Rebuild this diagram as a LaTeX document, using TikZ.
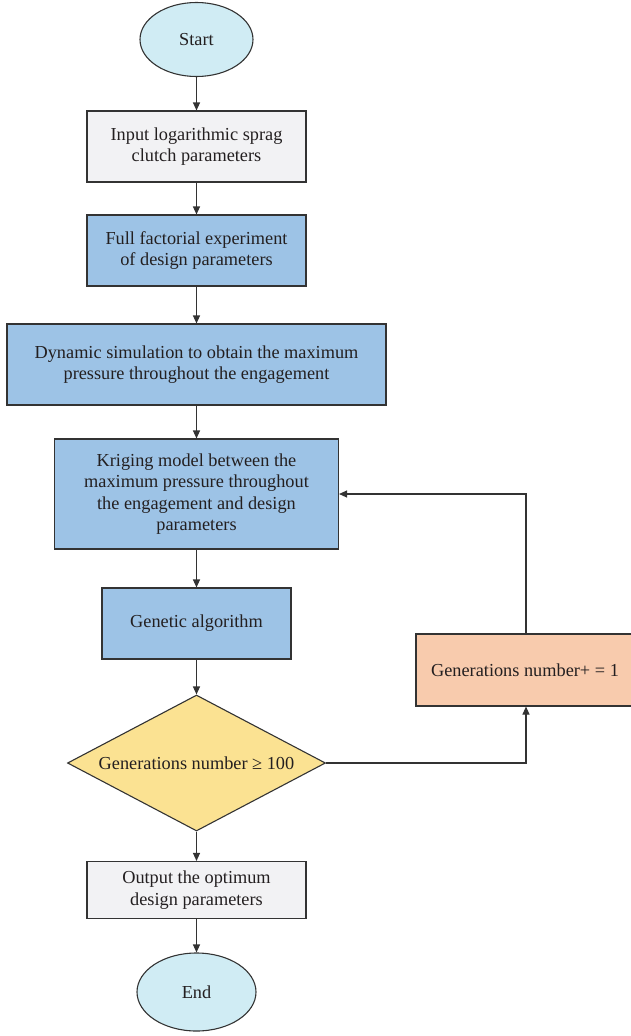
\documentclass[tikz,border=0pt]{standalone}
\usepackage{fontspec}
\setmainfont{Liberation Serif}
\usetikzlibrary{shapes.geometric,arrows.meta}
\definecolor{termfill}{HTML}{D0ECF4}
\definecolor{grayfill}{HTML}{F2F2F4}
\definecolor{bluefill}{HTML}{9DC3E6}
\definecolor{yellowfill}{HTML}{FBE292}
\definecolor{orangefill}{HTML}{F8CBAD}
\definecolor{edge}{HTML}{333333}
\definecolor{txt}{HTML}{231F20}
\tikzset{
  base/.style={draw=edge, line width=1.1pt, text=txt, align=center, inner sep=0pt,
    font=\fontsize{18.3}{21.5}\selectfont},
  term/.style={base, ellipse, fill=termfill},
  graybox/.style={base, rectangle, fill=grayfill},
  bluebox/.style={base, rectangle, fill=bluefill},
  decision/.style={base, diamond, aspect=1.9, fill=yellowfill},
  orangebox/.style={base, rectangle, fill=orangefill},
  conn/.style={draw=edge, line width=1.1pt, -{Triangle[length=8pt,width=7pt]}},
}
\begin{document}
\begin{tikzpicture}[x=1pt,y=-1pt]
\useasboundingbox (0,0) rectangle (630,1036);
\node[term, minimum width=113pt, minimum height=74pt] (start) at (196.5,39.5) {Start};
\node[graybox, minimum width=219pt, minimum height=71pt] (input) at (196.5,146.5) {Input logarithmic sprag\\clutch parameters};
\node[bluebox, minimum width=219pt, minimum height=71pt] (ff) at (196.5,250.5) {Full factorial experiment\\of design parameters};
\node[bluebox, minimum width=379pt, minimum height=81pt] (dyn) at (196.5,364.5) {Dynamic simulation to obtain the maximum\\pressure throughout the engagement};
\node[bluebox, minimum width=284pt, minimum height=110pt] (kr) at (196.5,494) {Kriging model between the\\maximum pressure throughout\\the engagement and design\\parameters};
\node[bluebox, minimum width=189pt, minimum height=71pt] (ga) at (196.5,623.5) {Genetic algorithm};
\node[decision, minimum width=258pt, minimum height=136pt] (dec) at (196.5,763) {Generations number ≥ 100};
\node[orangebox, minimum width=218pt, minimum height=72pt] (gen) at (525,670) {Generations number+ = 1};
\node[graybox, minimum width=219pt, minimum height=57pt] (out) at (196.5,890) {Output the optimum\\design parameters};
\node[term, minimum width=119pt, minimum height=78pt] (end) at (196.5,992) {End};
\coordinate (top) at (526,494);
\draw[conn] (start.south) -- (start.south |- input.north);
\draw[conn] (input.south) -- (input.south |- ff.north);
\draw[conn] (ff.south) -- (ff.south |- dyn.north);
\draw[conn] (dyn.south) -- (dyn.south |- kr.north);
\draw[conn] (kr.south) -- (kr.south |- ga.north);
\draw[conn] (ga.south) -- (ga.south |- dec.north);
\draw[conn] (dec.south) -- (dec.south |- out.north);
\draw[conn] (out.south) -- (out.south |- end.north);
\draw[conn] (dec.east) -| (top |- gen.south);
\draw[conn] (top |- gen.north) -- (top) -- (kr.east |- top);
\end{tikzpicture}
\end{document}
